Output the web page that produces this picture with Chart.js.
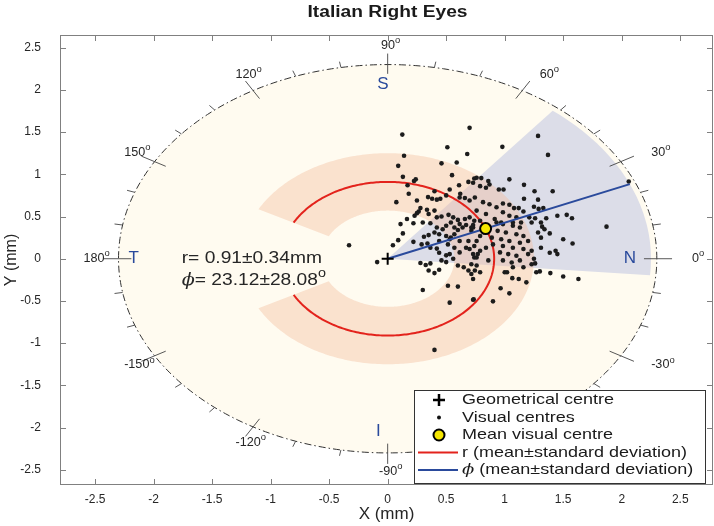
<!DOCTYPE html>
<html>
<head>
<meta charset="utf-8">
<script src="https://cdn.jsdelivr.net/npm/chart.js@4.4.0/dist/chart.umd.min.js"></script>
<style>
  html, body { margin: 0; padding: 0; background: #fff; }
</style>
</head>
<body>
<canvas id="eyeChart" width="714" height="526"></canvas>
<script>
// tick labels
const xTicks = [-2.5, -2, -1.5, -1, -0.5, 0, 0.5, 1, 1.5, 2, 2.5];
const yTicks = [-2.5, -2, -1.5, -1, -0.5, 0, 0.5, 1, 1.5, 2, 2.5];

// summary values (mean ± sd)
const rMean = 0.91, rStd = 0.34;
const phiMean = 23.12, phiStd = 28.08;

// angle labels around the disc and the four quadrant letters
const angleLabels = [0, 30, 60, 90, 120, 150, 180, -150, -120, -90, -60, -30];
const quadLetters = ['N', 'S', 'T', 'I'];
const quadX = [2.07, -0.04, -2.17, -0.08];
const quadY = [0, 2.06, 0, -2.05];

// visual centres (mm)
const visualX = [
  0.125, 0.70, 0.51, 0.68, 0.14, 0.46, 0.59, 0.09, 0.55, 0.13, 0.24, 0.225, 0.17, 0.61, 0.69, 0.74,
  0.53, 0.18, 0.40, 0.345, 0.38, 0.42, 0.45, 0.50, 0.615, 0.66, 0.62, 0.70, 0.074, 0.25, 0.28, 0.265,
  0.336, 0.35, 0.40, 0.25, 0.23, 0.42, 0.46, 0.52, 0.56, 0.60, 0.66, 0.70, 0.74, 0.615, 0.54, 0.50,
  0.57, 0.67, 0.715, 0.165, 0.11, 0.30, 0.365,
  0.22, 0.13, 0.09, 0.045, -0.33, -0.09, 0.22, 0.29, 0.34, 0.365, 0.42, 0.31, 0.35, 0.40, 0.44, 0.50,
  0.54, 0.44, 0.50, 0.53, 0.46, 0.50, 0.56, 0.28, 0.325, 0.365, 0.35, 0.40, 0.44, 0.30, 0.515, 0.60,
  0.53, 0.60, 0.65, 0.69, 0.715, 0.76, 0.73, 0.67, 0.615, 0.57, 0.64, 0.715, 0.76, 0.70, 0.74, 0.73,
  0.42, 0.47, 0.60, 0.73, 0.44, 0.515, 0.57, 0.53, 0.69, 0.74, 0.615, 0.77,
  1.23, 1.87, 1.32, 1.34, 1.285, 1.385, 1.31, 1.50, 1.58, 1.31, 1.385, 1.435, 1.45, 1.25, 1.26, 1.27,
  1.30, 1.39, 1.50, 1.63, 1.185, 1.065, 1.12, 0.965, 1.04, 0.90, 0.735,
  0.93, 0.985, 1.07, 1.13, 0.94, 1.01, 1.10, 1.16, 0.97, 1.04, 1.13, 1.20, 0.90, 0.985, 1.07, 1.16,
  1.23, 0.96, 1.03, 1.10, 1.20, 0.985, 1.06, 1.13, 1.23, 1.07, 1.16, 0.745, 0.79, 0.73, 0.86, 0.79,
  0.76, 0.715, 0.84, 0.89, 0.79,
  1.285, 0.98, 1.37, 1.04, 1.165, 0.95, 0.99, 1.255, 1.41, 1.165, 1.285, 0.985, 1.04, 1.08, 1.12, 1.16,
  1.25, 1.29, 1.33, 1.45, 1.53, 1.575, 1.21, 1.26, 1.355, 1.31, 0.76, 0.80, 0.86, 0.87, 0.84, 0.73,
  0.79, 0.745, 0.815, 0.87, 0.93, 0.985, 1.04, 1.10, 0.76, 0.84, 0.915, 0.97, 1.07, 1.14, 0.79, 0.73,
  2.06, 0.40, 1.00, 1.02
];
const visualY = [
  1.47, 1.55, 1.32, 1.24, 1.22, 1.13, 1.14, 1.10, 0.99, 0.97, 0.94, 0.92, 0.87, 0.87, 0.91, 0.95,
  0.82, 0.77, 0.80, 0.73, 0.71, 0.70, 0.71, 0.75, 0.725, 0.72, 0.77, 0.69, 0.67, 0.69, 0.60, 0.56,
  0.58, 0.53, 0.57, 0.54, 0.51, 0.49, 0.50, 0.52, 0.49, 0.46, 0.47, 0.49, 0.45, 0.41, 0.43, 0.39,
  0.37, 0.40, 0.37, 0.47, 0.41, 0.43, 0.42,
  0.42, 0.30, 0.22, 0.16, 0.16, -0.04, 0.20, 0.17, 0.18, 0.13, 0.12, 0.26, 0.28, 0.31, 0.29, 0.27,
  0.25, 0.07, 0.04, 0.055, -0.02, -0.04, 0.00, -0.05, -0.075, -0.055, -0.14, -0.17, -0.13, -0.37, -0.32, -0.33,
  -0.52, -0.08, -0.10, -0.14, -0.18, -0.08, 0.055, 0.13, 0.21, 0.29, 0.37, 0.33, 0.21, 0.115, 0.015, -0.485,
  0.37, 0.35, 0.34, 0.40, 0.21, 0.17, 0.13, 0.23, 0.21, 0.15, 0.075, 0.055,
  0.43, 0.38, 0.38, 0.35, 0.31, 0.30, 0.25, 0.23, 0.18, 0.13, 0.07, 0.095, 0.055, 0.0, -0.055, -0.16,
  -0.15, -0.17, -0.21, -0.24, -0.28, -0.23, -0.24, -0.35, -0.41, -0.505, -0.48,
  0.43, 0.41, 0.39, 0.37, 0.33, 0.31, 0.29, 0.27, 0.23, 0.21, 0.19, 0.21, 0.17, 0.15, 0.13, 0.115,
  0.095, 0.075, 0.055, 0.035, 0.055, -0.02, -0.045, -0.02, -0.065, -0.10, -0.10, -0.14, -0.16, -0.24, -0.02, 0.095,
  0.015, -0.065, 0.13, 0.25, 0.27,
  1.455, 1.325, 1.23, 0.94, 0.875, 0.82, 0.82, 0.80, 0.80, 0.71, 0.70, 0.655, 0.64, 0.60, 0.60, 0.56,
  0.615, 0.59, 0.60, 0.51, 0.52, 0.48, 0.49, 0.48, 0.48, 0.43, 0.96, 0.955, 0.92, 0.88, 0.84, 0.90,
  0.86, 0.725, 0.67, 0.645, 0.61, 0.55, 0.51, 0.49, 0.57, 0.53, 0.47, 0.43, 0.43, 0.43, 0.45, 0.37,
  0.915, -1.08, -0.16, -0.16
];

const discRadius = 2.3;
const wedgeRadius = 2.25;
const bandHalfSpan = 152;

const FONT = '"Liberation Sans", Arial, sans-serif';
const PHI_FONT = '"DejaVu Serif", serif';
const BLUE = '#2a4a9c';
const RED = '#e3231c';
const STRETCH = 1.2; // the source figure was widened, so its text runs wide

const visualPoints = visualX.map((x, i) => ({ x: x, y: visualY[i] }));
const meanPoint = {
  x: rMean * Math.cos(phiMean * Math.PI / 180),
  y: rMean * Math.sin(phiMean * Math.PI / 180)
};
const phiLine = [
  { x: 0, y: 0 },
  { x: wedgeRadius * Math.cos(phiMean * Math.PI / 180), y: wedgeRadius * Math.sin(phiMean * Math.PI / 180) }
];

// polar path through the chart's scales (ellipse on screen since x/y scales differ)
function tracePolar(ctx, sx, sy, r, a0, a1, first) {
  const n = Math.max(2, Math.ceil(Math.abs(a1 - a0)));
  for (let i = 0; i <= n; i++) {
    const a = (a0 + (a1 - a0) * i / n) * Math.PI / 180;
    const px = sx.getPixelForValue(r * Math.cos(a));
    const py = sy.getPixelForValue(r * Math.sin(a));
    if (i === 0 && first) ctx.moveTo(px, py); else ctx.lineTo(px, py);
  }
}

// draw a row of text runs (font + optional raise), widened by `stretch`
function drawRuns(ctx, runs, x, y, align, stretch) {
  ctx.save();
  ctx.textAlign = 'left';
  ctx.textBaseline = 'middle';
  let total = 0;
  runs.forEach(r => { ctx.font = r.font; r.w = ctx.measureText(r.text).width; total += r.w; });
  ctx.translate(x, y);
  ctx.scale(stretch, 1);
  let cx = align === 'center' ? -total / 2 : 0;
  runs.forEach(r => {
    ctx.font = r.font;
    ctx.fillText(r.text, cx, r.dy || 0);
    cx += r.w;
  });
  ctx.restore();
}

function degRuns(text, size) {
  return [
    { text: text, font: size + 'px ' + FONT },
    { text: 'o', font: Math.round(size * 0.75) + 'px ' + FONT, dy: -size * 0.42 }
  ];
}

const eyePlugin = {
  id: 'eyePlugin',
  beforeDraw(chart) {
    const ctx = chart.ctx;
    ctx.save();
    ctx.fillStyle = '#fff';
    ctx.fillRect(0, 0, chart.width, chart.height);
    ctx.restore();
  },
  beforeDatasetsDraw(chart) {
    const ctx = chart.ctx, sx = chart.scales.x, sy = chart.scales.y;
    const ox = sx.getPixelForValue(0), oy = sy.getPixelForValue(0);
    ctx.save();

    // disc
    ctx.beginPath();
    tracePolar(ctx, sx, sy, discRadius, 0, 360, true);
    ctx.closePath();
    ctx.fillStyle = '#fffbf0';
    ctx.fill();

    // phi wedge
    ctx.beginPath();
    ctx.moveTo(ox, oy);
    tracePolar(ctx, sx, sy, wedgeRadius, phiMean - phiStd, phiMean + phiStd, false);
    ctx.closePath();
    ctx.fillStyle = '#dcdde8';
    ctx.fill();

    // r band
    ctx.beginPath();
    tracePolar(ctx, sx, sy, rMean + rStd, -bandHalfSpan, bandHalfSpan, true);
    tracePolar(ctx, sx, sy, rMean - rStd, bandHalfSpan, -bandHalfSpan, false);
    ctx.closePath();
    ctx.fillStyle = 'rgba(243, 190, 160, 0.42)';
    ctx.fill();

    // r mean arc
    ctx.beginPath();
    tracePolar(ctx, sx, sy, rMean, -bandHalfSpan, bandHalfSpan, true);
    ctx.strokeStyle = RED;
    ctx.lineWidth = 2;
    ctx.stroke();

    // dash-dot rim
    ctx.beginPath();
    tracePolar(ctx, sx, sy, discRadius, 0, 360, true);
    ctx.setLineDash([7, 3, 1.5, 3]);
    ctx.strokeStyle = '#333';
    ctx.lineWidth = 1;
    ctx.stroke();
    ctx.setLineDash([]);

    // rim ticks every 10 degrees
    ctx.strokeStyle = '#444';
    ctx.lineWidth = 0.9;
    for (let a = -180; a < 180; a += 10) {
      const major = a % 30 === 0;
      const r0 = major ? discRadius - 0.11 : discRadius;
      const r1 = major ? discRadius + 0.13 : discRadius + 0.07;
      const t = a * Math.PI / 180;
      ctx.beginPath();
      ctx.moveTo(sx.getPixelForValue(r0 * Math.cos(t)), sy.getPixelForValue(r0 * Math.sin(t)));
      ctx.lineTo(sx.getPixelForValue(r1 * Math.cos(t)), sy.getPixelForValue(r1 * Math.sin(t)));
      ctx.stroke();
    }

    // angle labels: left-aligned at the label radius, centred at +-90
    ctx.fillStyle = '#262626';
    angleLabels.forEach(a => {
      const t = a * Math.PI / 180;
      const vertical = Math.abs(a) === 90;
      const px = sx.getPixelForValue(2.6 * Math.cos(t));
      const py = sy.getPixelForValue(2.52 * Math.sin(t));
      drawRuns(ctx, degRuns(String(a), 12), vertical ? px + 3 : px, py, vertical ? 'center' : 'left', 1.05);
    });

    // quadrant letters
    ctx.fillStyle = BLUE;
    ctx.font = '17px ' + FONT;
    ctx.textAlign = 'center';
    ctx.textBaseline = 'middle';
    quadLetters.forEach((s, i) => {
      ctx.fillText(s, sx.getPixelForValue(quadX[i]), sy.getPixelForValue(quadY[i]));
    });

    // summary text
    ctx.fillStyle = '#262626';
    const tx = sx.getPixelForValue(-1.76);
    drawRuns(ctx, [{ text: 'r= ' + rMean.toFixed(2) + '\u00b1' + rStd.toFixed(2) + 'mm', font: '16px ' + FONT }],
      tx, sy.getPixelForValue(0), 'left', STRETCH);
    drawRuns(ctx, [{ text: '\u03d5', font: 'italic 16px ' + PHI_FONT }]
      .concat(degRuns('= ' + phiMean.toFixed(2) + '\u00b1' + phiStd.toFixed(2), 16)),
      tx, sy.getPixelForValue(-0.26), 'left', STRETCH);

    ctx.restore();
  },
  afterDatasetsDraw(chart) {
    const ctx = chart.ctx, area = chart.chartArea;
    const sx = chart.scales.x, sy = chart.scales.y;
    ctx.save();

    // axes box with inward ticks
    ctx.strokeStyle = '#808080';
    ctx.lineWidth = 1;
    ctx.strokeRect(area.left + 0.5, area.top + 0.5, area.right - area.left - 1, area.bottom - area.top - 1);
    ctx.beginPath();
    xTicks.forEach(v => {
      const p = Math.round(sx.getPixelForValue(v)) + 0.5;
      ctx.moveTo(p, area.top); ctx.lineTo(p, area.top + 6);
      ctx.moveTo(p, area.bottom); ctx.lineTo(p, area.bottom - 6);
    });
    yTicks.forEach(v => {
      const p = Math.round(sy.getPixelForValue(v)) + 0.5;
      ctx.moveTo(area.left, p); ctx.lineTo(area.left + 6, p);
      ctx.moveTo(area.right, p); ctx.lineTo(area.right - 6, p);
    });
    ctx.stroke();

    // title
    ctx.fillStyle = '#1a1a1a';
    drawRuns(ctx, [{ text: 'Italian Right Eyes', font: 'bold 16px ' + FONT }],
      (area.left + area.right) / 2 + 1, 13, 'center', STRETCH);

    // legend
    const lx = area.right - 299, ly = area.bottom - 95, lw = 291, lh = 93;
    ctx.fillStyle = '#fff';
    ctx.fillRect(lx, ly, lw, lh);
    ctx.strokeStyle = '#333';
    ctx.lineWidth = 1;
    ctx.strokeRect(lx + 0.5, ly + 0.5, lw, lh);
    const rows = [ly + 10, ly + 27.5, ly + 45, ly + 62.5, ly + 80];
    const mx = lx + 25, textX = lx + 48;
    ctx.strokeStyle = '#000';
    ctx.lineWidth = 2.5;
    ctx.beginPath();
    ctx.moveTo(mx - 6, rows[0]); ctx.lineTo(mx + 6, rows[0]);
    ctx.moveTo(mx, rows[0] - 6); ctx.lineTo(mx, rows[0] + 6);
    ctx.stroke();
    ctx.fillStyle = '#111';
    ctx.beginPath(); ctx.arc(mx, rows[1], 2, 0, Math.PI * 2); ctx.fill();
    ctx.beginPath(); ctx.arc(mx, rows[2], 5.5, 0, Math.PI * 2);
    ctx.fillStyle = '#f5e600'; ctx.fill();
    ctx.lineWidth = 2; ctx.strokeStyle = '#000'; ctx.stroke();
    ctx.lineWidth = 2;
    ctx.strokeStyle = RED;
    ctx.beginPath(); ctx.moveTo(lx + 4, rows[3]); ctx.lineTo(lx + 44, rows[3]); ctx.stroke();
    ctx.strokeStyle = BLUE;
    ctx.beginPath(); ctx.moveTo(lx + 4, rows[4]); ctx.lineTo(lx + 44, rows[4]); ctx.stroke();

    ctx.fillStyle = '#1a1a1a';
    const lf = '15px ' + FONT;
    const legendRows = [
      [{ text: 'Geometrical centre', font: lf }],
      [{ text: 'Visual centres', font: lf }],
      [{ text: 'Mean visual centre', font: lf }],
      [{ text: 'r (mean\u00b1standard deviation)', font: lf }],
      [{ text: '\u03d5', font: 'italic 15px ' + PHI_FONT }, { text: ' (mean\u00b1standard deviation)', font: lf }]
    ];
    legendRows.forEach((runs, i) => drawRuns(ctx, runs, textX, rows[i], 'left', STRETCH));

    ctx.restore();
  }
};

new Chart(document.getElementById('eyeChart'), {
  type: 'scatter',
  data: {
    datasets: [
      {
        label: 'Mean visual centre',
        data: [meanPoint],
        pointRadius: 5.5,
        pointBackgroundColor: '#f5e600',
        pointBorderColor: '#000',
        pointBorderWidth: 2,
        order: 0
      },
      {
        label: 'Geometrical centre',
        data: [{ x: 0, y: 0 }],
        pointStyle: 'cross',
        pointRadius: 6,
        pointBorderColor: '#000',
        pointBorderWidth: 2,
        order: 1
      },
      {
        label: 'phi',
        data: phiLine,
        showLine: true,
        borderColor: BLUE,
        borderWidth: 2,
        pointRadius: 0,
        order: 2
      },
      {
        label: 'Visual centres',
        data: visualPoints,
        pointRadius: 2.3,
        pointBackgroundColor: '#1c1c1c',
        pointBorderWidth: 0,
        order: 3
      }
    ]
  },
  options: {
    responsive: false,
    animation: false,
    events: [],
    layout: { autoPadding: false, padding: { top: 35, right: 1, left: 0, bottom: 0 } },
    plugins: {
      legend: { display: false },
      tooltip: { enabled: false },
      title: { display: false }
    },
    scales: {
      x: {
        type: 'linear',
        min: -2.8,
        max: 2.78,
        grid: { display: false, drawTicks: false },
        border: { display: false },
        afterBuildTicks: s => { s.ticks = xTicks.map(v => ({ value: v })); },
        afterFit: s => { s.height = 41; s.paddingLeft = 0; s.paddingRight = 0; },
        ticks: {
          padding: 7,
          color: '#262626',
          font: { family: FONT, size: 12 },
          maxRotation: 0,
          callback: v => String(v)
        },
        title: {
          display: true,
          text: 'X (mm)',
          color: '#262626',
          font: { family: FONT, size: 17 },
          padding: { top: 0, bottom: 1 }
        }
      },
      y: {
        type: 'linear',
        min: -2.68,
        max: 2.65,
        grid: { display: false, drawTicks: false },
        border: { display: false },
        afterBuildTicks: s => { s.ticks = yTicks.map(v => ({ value: v })); },
        afterFit: s => { s.width = 60; s.paddingTop = 0; s.paddingBottom = 0; },
        ticks: {
          padding: 19,
          color: '#262626',
          font: { family: FONT, size: 12 },
          callback: v => String(v)
        },
        title: {
          display: true,
          text: 'Y (mm)',
          color: '#262626',
          font: { family: FONT, size: 16 },
          padding: { top: 2, bottom: 0 }
        }
      }
    }
  },
  plugins: [eyePlugin]
});
</script>
</body>
</html>
